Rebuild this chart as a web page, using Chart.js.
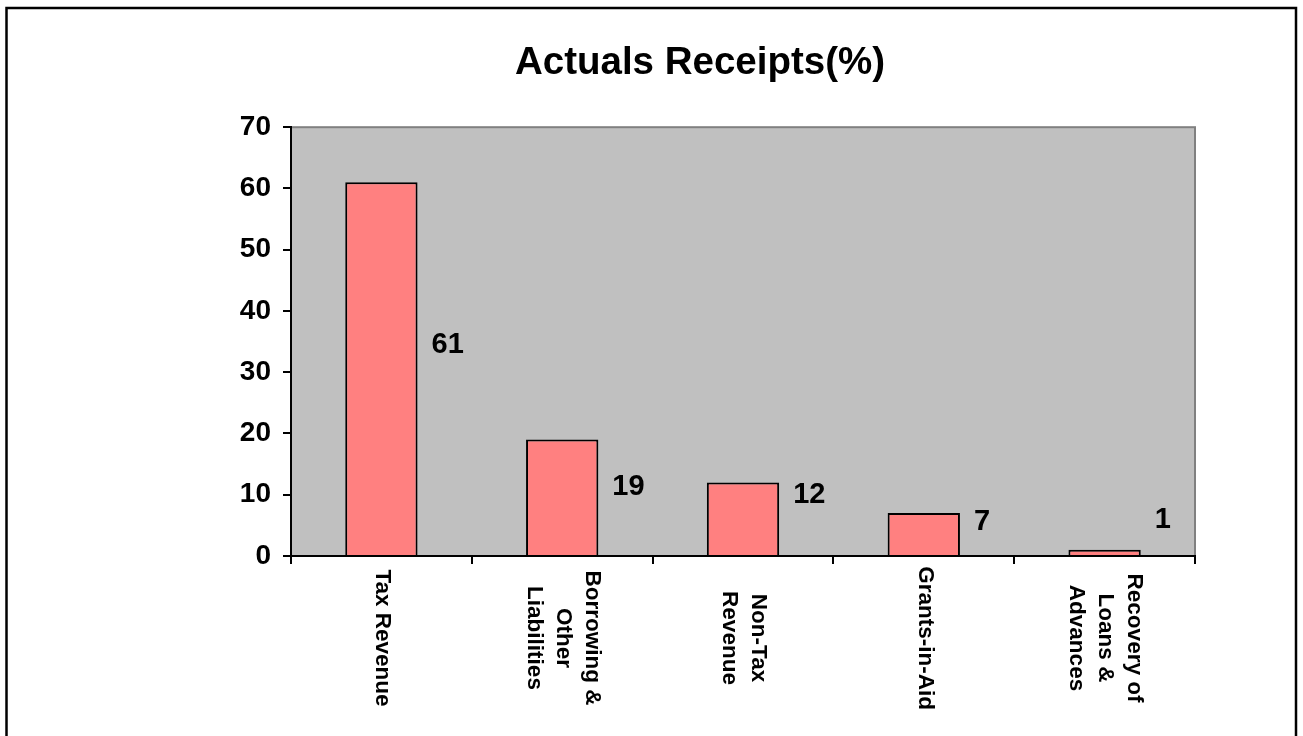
<!DOCTYPE html>
<html>
<head>
<meta charset="utf-8">
<title>Actuals Receipts(%)</title>
<script src="https://cdn.jsdelivr.net/npm/chart.js@4/dist/chart.umd.min.js"></script>
<style>
  html, body { margin: 0; padding: 0; background: #fff; }
  #wrap { width: 1303px; height: 736px; }
</style>
</head>
<body>
<div id="wrap"><canvas id="receipts" width="1303" height="736"></canvas></div>
<script>
const categories = [
  ['Tax Revenue'],
  ['Borrowing &', 'Other', 'Liabilities'],
  ['Non-Tax', 'Revenue'],
  ['Grants-in-Aid'],
  ['Recovery of', 'Loans &', 'Advances'],
];
const receipts = [61, 19, 12, 7, 1];
// height (in axis units) where the value labels sit in the original
const labelLevels = [34.5, 11.3, 10, 5.5, 5.9];
const yTicks = [0, 10, 20, 30, 40, 50, 60, 70];

const FONT = '"Liberation Sans", Arial, sans-serif';

// white page, outer frame and the grey plot area
const framePlugin = {
  id: 'frame',
  beforeDraw(chart) {
    const { ctx, chartArea: a, width, height } = chart;
    ctx.save();
    ctx.fillStyle = '#fff';
    ctx.fillRect(0, 0, width, height);
    ctx.strokeStyle = '#000';
    ctx.lineWidth = 2.5;
    ctx.strokeRect(6.5, 8, width - 13.5, height + 40);
    ctx.fillStyle = '#C0C0C0';
    ctx.fillRect(a.left, a.top, a.right - a.left, a.bottom - a.top);
    ctx.strokeStyle = '#808080';
    ctx.lineWidth = 2;
    ctx.strokeRect(a.left, a.top, a.right - a.left, a.bottom - a.top);
    ctx.restore();
  },
};

// value labels to the right of each bar
const valueLabels = {
  id: 'valueLabels',
  afterDatasetsDraw(chart) {
    const { ctx, scales: { y } } = chart;
    const bars = chart.getDatasetMeta(0).data;
    ctx.save();
    ctx.font = 'bold 29px ' + FONT;
    ctx.fillStyle = '#000';
    ctx.textAlign = 'left';
    ctx.textBaseline = 'middle';
    bars.forEach((bar, i) => {
      ctx.fillText(String(receipts[i]), bar.x + bar.width / 2 + 14, y.getPixelForValue(labelLevels[i]));
    });
    ctx.restore();
  },
};

// category names, turned to read top to bottom
const categoryLabels = {
  id: 'categoryLabels',
  afterDraw(chart) {
    const { ctx, scales: { x } } = chart;
    ctx.save();
    ctx.font = 'bold 22.5px ' + FONT;
    ctx.fillStyle = '#000';
    ctx.textAlign = 'center';
    ctx.textBaseline = 'middle';
    categories.forEach((lines, i) => {
      ctx.save();
      ctx.translate(x.getPixelForValue(i) + 1, x.top + 82);
      ctx.rotate(Math.PI / 2);
      lines.forEach((line, k) => {
        ctx.fillText(line, 0, (k - (lines.length - 1) / 2) * 29);
      });
      ctx.restore();
    });
    ctx.restore();
  },
};

new Chart(document.getElementById('receipts'), {
  type: 'bar',
  data: {
    labels: categories.map(l => l.join(' ')),
    datasets: [{
      data: receipts,
      backgroundColor: '#FF8080',
      borderColor: '#000',
      borderWidth: 2,
      barPercentage: 0.4,
      categoryPercentage: 1,
    }],
  },
  options: {
    responsive: false,
    animation: false,
    devicePixelRatio: 1,
    layout: { padding: { left: 205, right: 108, top: 0, bottom: 0 } },
    plugins: {
      legend: { display: false },
      tooltip: { enabled: false },
      title: {
        display: true,
        text: 'Actuals Receipts(%)',
        color: '#000',
        font: { family: FONT, size: 38.5, weight: 'bold' },
        padding: { top: 40, bottom: 41 },
      },
    },
    scales: {
      x: {
        offset: true,
        grid: {
          offset: true,
          drawOnChartArea: false,
          color: '#000',
          lineWidth: 2,
          tickLength: 8,
        },
        border: { color: '#000', width: 2 },
        ticks: { display: false },
        afterFit(scale) { scale.height = 180; },
      },
      y: {
        min: 0,
        max: 70,
        afterBuildTicks(scale) { scale.ticks = yTicks.map(v => ({ value: v })); },
        grid: {
          drawOnChartArea: false,
          color: '#000',
          lineWidth: 2,
          tickLength: 8,
        },
        border: { color: '#000', width: 2 },
        ticks: {
          color: '#000',
          padding: 12,
          font: { family: FONT, size: 28, weight: 'bold' },
        },
        afterFit(scale) { scale.width = 86; },
      },
    },
  },
  plugins: [framePlugin, valueLabels, categoryLabels],
});
</script>
</body>
</html>
